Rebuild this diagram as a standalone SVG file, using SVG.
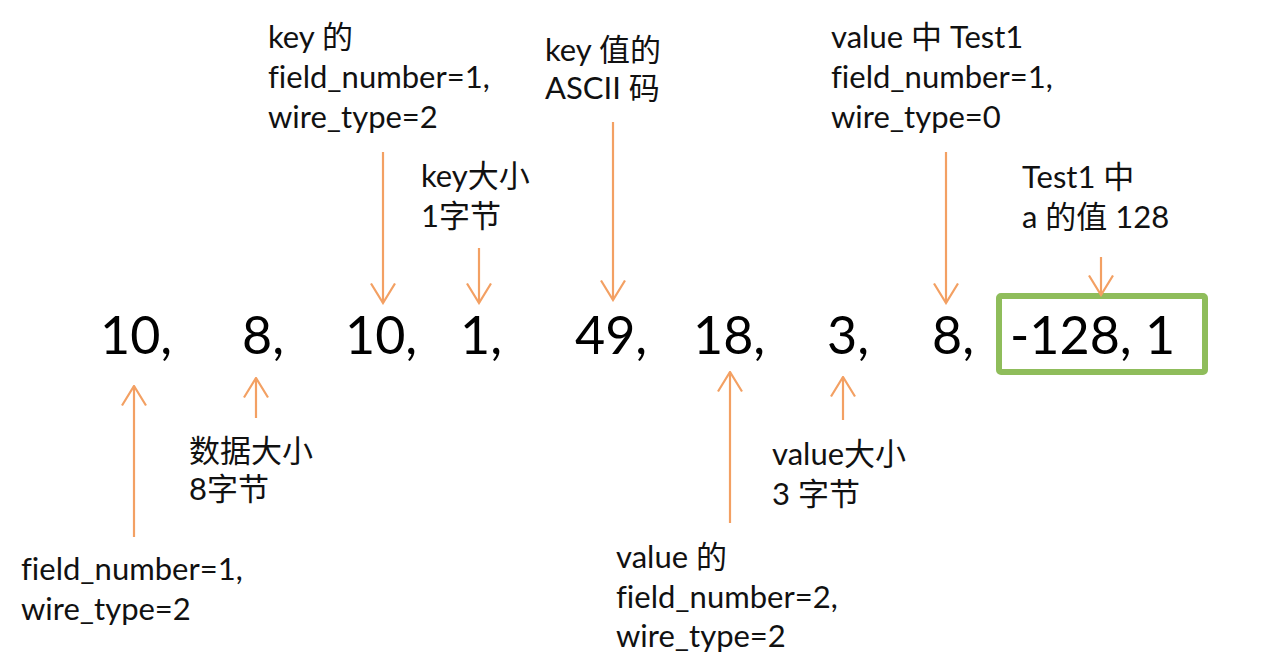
<svg xmlns="http://www.w3.org/2000/svg" width="1263" height="666" viewBox="0 0 1263 666">
<style>
  .lbl { font-family: Lato, "Noto Sans CJK SC", sans-serif; font-size: 31px; fill: #111; font-variant-ligatures: none; font-feature-settings: "liga" 0; }
  .num { font-family: Lato, "Noto Sans CJK SC", sans-serif; font-size: 52px; fill: #000; }
  .arr { stroke: #f3a063; stroke-width: 2.2; fill: none; }
</style>
<defs>
  <marker id="ah" viewBox="0 0 22 26" refX="20.5" refY="13" markerWidth="22" markerHeight="26" markerUnits="userSpaceOnUse" orient="auto">
    <path d="M1,1 L20.5,13 L1,25" stroke="#f3a063" stroke-width="2.2" fill="none"/>
  </marker>
</defs>
<rect width="1263" height="666" fill="#fff"/>

<g id="bytes">
  <text class="num" x="100" y="354">10,</text>
  <text class="num" x="242" y="354">8,</text>
  <text class="num" x="345" y="354">10,</text>
  <text class="num" x="460" y="354">1,</text>
  <text class="num" x="575" y="354">49,</text>
  <text class="num" x="693" y="354">18,</text>
  <text class="num" x="827" y="354">3,</text>
  <text class="num" x="932" y="354">8,</text>
</g>

<g id="test1-box">
  <rect x="999" y="296" width="206" height="76" rx="2" fill="none" stroke="#8fbd5b" stroke-width="6"/>
  <text class="num" x="1010" y="354">-128, 1</text>
</g>

<g id="label-key-field">
  <text class="lbl" x="268" y="48">key 的</text>
  <text class="lbl" x="268" y="88">field_number=1,</text>
  <text class="lbl" x="268" y="128">wire_type=2</text>
</g>
<g id="label-key-size">
  <text class="lbl" x="421" y="187">key大小</text>
  <text class="lbl" x="421" y="227">1字节</text>
</g>
<g id="label-key-ascii">
  <text class="lbl" x="545" y="61">key 值的</text>
  <text class="lbl" x="545" y="99">ASCII 码</text>
</g>
<g id="label-value-test1">
  <text class="lbl" x="831" y="48">value 中 Test1</text>
  <text class="lbl" x="831" y="88">field_number=1,</text>
  <text class="lbl" x="831" y="128">wire_type=0</text>
</g>
<g id="label-test1-a">
  <text class="lbl" x="1022" y="188">Test1 中</text>
  <text class="lbl" x="1022" y="228">a 的值 128</text>
</g>
<g id="label-data-size">
  <text class="lbl" x="189" y="462">数据大小</text>
  <text class="lbl" x="189" y="500">8字节</text>
</g>
<g id="label-field1">
  <text class="lbl" x="21" y="580">field_number=1,</text>
  <text class="lbl" x="21" y="620">wire_type=2</text>
</g>
<g id="label-value-size">
  <text class="lbl" x="772" y="465">value大小</text>
  <text class="lbl" x="772" y="505">3 字节</text>
</g>
<g id="label-value-field">
  <text class="lbl" x="616" y="568">value 的</text>
  <text class="lbl" x="616" y="608">field_number=2,</text>
  <text class="lbl" x="616" y="647">wire_type=2</text>
</g>

<g id="connectors">
  <line class="arr" x1="383" y1="152" x2="383" y2="303" marker-end="url(#ah)"/>
  <line class="arr" x1="479" y1="248" x2="479" y2="303" marker-end="url(#ah)"/>
  <line class="arr" x1="613" y1="122" x2="613" y2="300" marker-end="url(#ah)"/>
  <line class="arr" x1="946" y1="152" x2="946" y2="303" marker-end="url(#ah)"/>
  <line class="arr" x1="1101" y1="257" x2="1101" y2="295" marker-end="url(#ah)"/>
  <line class="arr" x1="134" y1="537" x2="134" y2="386" marker-end="url(#ah)"/>
  <line class="arr" x1="256" y1="418" x2="256" y2="378" marker-end="url(#ah)"/>
  <line class="arr" x1="730" y1="523" x2="730" y2="372" marker-end="url(#ah)"/>
  <line class="arr" x1="843" y1="420" x2="843" y2="377" marker-end="url(#ah)"/>
</g>
</svg>
